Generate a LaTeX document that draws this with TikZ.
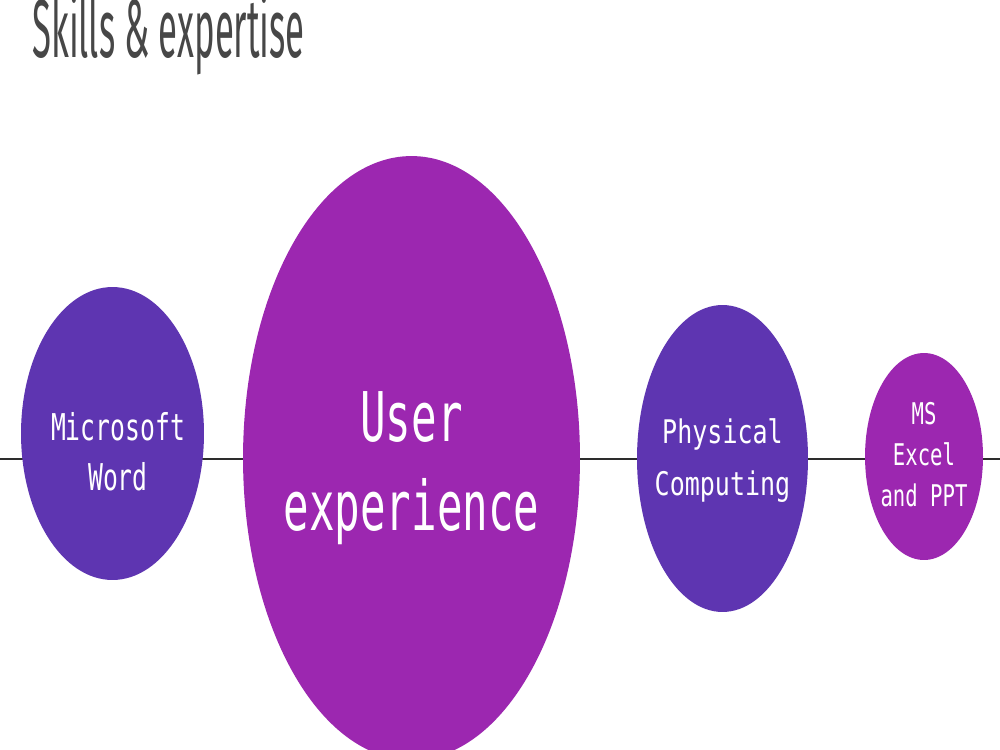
\documentclass[tikz,border=0pt]{standalone}
\usepackage{fontspec}
\usepackage{xcolor}
\usepackage{tikz}
\usetikzlibrary{shapes.geometric, positioning}
\setmainfont{DejaVu Sans Mono}
\newfontfamily\skillfont{DejaVu Sans Mono}
\newfontfamily\headfont{Fira Sans}
\definecolor{skillBlue}{RGB}{94, 53, 177}
\definecolor{skillPurple}{RGB}{156, 39, 176}
\definecolor{headGray}{RGB}{71, 71, 71}
\definecolor{lineDark}{RGB}{45, 45, 45}

\begin{document}
\begin{tikzpicture}[x=0.02cm, y=-0.02cm,
    bubble/.style={ellipse, draw=none, inner sep=0pt},
    skilltext/.style={text=white, align=center, inner sep=0pt}]
    \fill[white] (0,0) rectangle (1000,750);
    \useasboundingbox (0,0) rectangle (1000,750);
    % Title
    \node[anchor=base west, inner sep=0pt, text=headGray,
      font=\headfont\addfontfeature{FakeStretch=0.42}\fontsize{47}{50}\selectfont] (title) at (32,58) {Skills \& expertise};
    % Axis line behind the bubbles
    \coordinate (lineL) at (0,459);
    \coordinate (lineR) at (1000,459);
    \draw[lineDark, line width=1.7pt] (lineL) -- (lineR);
    % Bubbles
    \node[bubble, fill=skillBlue, minimum width=3.66cm, minimum height=5.86cm] (word) at (112.5,433.5) {};
    \node[bubble, fill=skillPurple, minimum width=6.74cm, minimum height=12.08cm] (ux) at (411.5,458) {};
    \node[bubble, fill=skillBlue, minimum width=3.42cm, minimum height=6.14cm] (phys) at (722.5,458.5) {};
    \node[bubble, fill=skillPurple, minimum width=2.36cm, minimum height=4.14cm] (excel) at (924,456.5) {};
    % Labels
    \node[skilltext, font=\skillfont\addfontfeature{FakeStretch=0.67}\fontsize{21}{28.5}\selectfont] (wordlbl) at (118,452) {Microsoft\\Word};
    \node[skilltext, font=\skillfont\addfontfeature{FakeStretch=0.62}\fontsize{39}{51}\selectfont] (uxlbl) at (411.5,468) {User\\experience};
    \node[skilltext, font=\skillfont\addfontfeature{FakeStretch=0.77}\fontsize{18.5}{29.6}\selectfont] (physlbl) at (722.5,461) {Physical\\Computing};
    \node[skilltext, font=\skillfont\addfontfeature{FakeStretch=0.69}\fontsize{17}{23.3}\selectfont] (excellbl) at (924,455) {MS\\Excel\\and PPT};
\end{tikzpicture}
\end{document}
